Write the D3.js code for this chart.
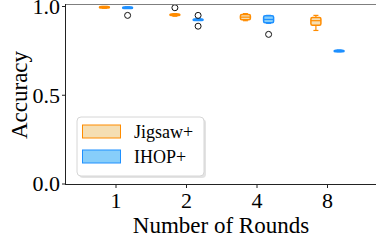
<!DOCTYPE html>
<html><head><meta charset="utf-8">
<script src="https://cdn.jsdelivr.net/npm/d3@7"></script>
<style>body{margin:0;background:#fff}svg{display:block}</style>
</head><body>
<script>
const categories = ["1","2","4","8"];
const seriesNames = ["Jigsaw+","IHOP+"];
// box stats per category: [whiskerLow, q1, median, q3, whiskerHigh]
const jigsawStats = [
  [0.990,0.993,0.997,1.000,1.000],
  [0.945,0.950,0.955,0.958,0.960],
  [0.920,0.925,0.940,0.955,0.960],
  [0.865,0.895,0.920,0.938,0.950]
];
const ihopStats = [
  [0.992,0.993,0.995,0.997,0.998],
  [0.922,0.924,0.927,0.930,0.932],
  [0.905,0.908,0.927,0.948,0.950],
  [0.745,0.747,0.750,0.753,0.755]
];
const jigsawFliers = [[],[0.993],[],[]];
const ihopFliers = [[0.950],[0.950,0.889],[0.843],[]];
const yTicks = [0.0,0.5,1.0];

const W=376,H=241;
const svg=d3.select("body").append("svg").attr("width",W).attr("height",H);
const font="'Liberation Serif', 'Times New Roman', serif";
const x=d3.scaleBand().domain(categories).range([80.75,362.75]).paddingInner(0).paddingOuter(0);
const y=d3.scaleLinear().domain([0,1]).range([184,6.5]);
const off=d3.scaleBand().domain(seriesNames).range([-29,29]).padding(0.5);
const styles={
  "Jigsaw+":{edge:"#ff8c00",fill:"#f5deb3",stats:jigsawStats,fliers:jigsawFliers},
  "IHOP+":{edge:"#1e90ff",fill:"#87cefa",stats:ihopStats,fliers:ihopFliers}
};
const bw=10;

// spines
svg.append("line").attr("x1",65.5).attr("x2",W).attr("y1",4.5).attr("y2",4.5).attr("stroke","#7f7f7f").attr("stroke-width",1.2);
svg.append("line").attr("x1",65.5).attr("x2",65.5).attr("y1",4).attr("y2",184.5).attr("stroke","#222").attr("stroke-width",1);
svg.append("line").attr("x1",65).attr("x2",W).attr("y1",184.5).attr("y2",184.5).attr("stroke","#222").attr("stroke-width",1);

// y ticks
yTicks.forEach(t=>{
  const yy=y(t);
  svg.append("line").attr("x1",62).attr("x2",65.5).attr("y1",yy).attr("y2",yy).attr("stroke","#222");
  svg.append("text").attr("x",60).attr("y",yy).attr("dy","0.34em").attr("text-anchor","end")
    .attr("font-family",font).attr("font-size",22).text(t.toFixed(1));
});
// x ticks
categories.forEach(c=>{
  const xx=x(c)+x.bandwidth()/2;
  svg.append("line").attr("x1",xx).attr("x2",xx).attr("y1",184.5).attr("y2",188).attr("stroke","#222");
  svg.append("text").attr("x",xx).attr("y",208).attr("text-anchor","middle")
    .attr("font-family",font).attr("font-size",22).text(c);
});
svg.append("text").attr("x",221).attr("y",233).attr("text-anchor","middle")
  .attr("font-family",font).attr("font-size",23).text("Number of Rounds");
svg.append("text").attr("transform","translate(27,95) rotate(-90)").attr("text-anchor","middle")
  .attr("font-family",font).attr("font-size",23).text("Accuracy");

// boxes
const clip=svg.append("clipPath").attr("id","c").append("rect").attr("x",66).attr("y",5).attr("width",W).attr("height",180);
const g=svg.append("g").attr("clip-path","url(#c)");
seriesNames.forEach(s=>{
  const st=styles[s];
  categories.forEach((c,i)=>{
    const cx=x(c)+x.bandwidth()/2+off(s)+off.bandwidth()/2;
    const [wl,q1,md,q3,wh]=st.stats[i];
    const gg=g.append("g");
    gg.append("line").attr("x1",cx).attr("x2",cx).attr("y1",y(wh)).attr("y2",y(q3)).attr("stroke",st.edge).attr("stroke-width",1.2);
    gg.append("line").attr("x1",cx).attr("x2",cx).attr("y1",y(q1)).attr("y2",y(wl)).attr("stroke",st.edge).attr("stroke-width",1.2);
    [wl,wh].forEach(v=>gg.append("line").attr("x1",cx-bw/4).attr("x2",cx+bw/4).attr("y1",y(v)).attr("y2",y(v)).attr("stroke",st.edge).attr("stroke-width",1.2));
    gg.append("rect").attr("x",cx-bw/2).attr("y",y(q3)).attr("width",bw).attr("height",Math.max(y(q1)-y(q3),1.5))
      .attr("rx",1.5).attr("fill",st.fill).attr("stroke",st.edge).attr("stroke-width",1.5);
    gg.append("line").attr("x1",cx-bw/2).attr("x2",cx+bw/2).attr("y1",y(md)).attr("y2",y(md)).attr("stroke",st.edge).attr("stroke-width",1.2);
    st.fliers[i].forEach(v=>g.append("circle").attr("cx",cx).attr("cy",y(v)).attr("r",3).attr("fill","none").attr("stroke","#111").attr("stroke-width",1));
  });
});

// legend
const lg=svg.append("g");
lg.append("rect").attr("x",79).attr("y",119).attr("width",127).attr("height",59).attr("rx",4).attr("fill","#d0d0d0").attr("opacity",0.6);
lg.append("rect").attr("x",77).attr("y",117).attr("width",127).attr("height",59).attr("rx",4).attr("fill","#fff").attr("stroke","#d6d6d6").attr("stroke-width",1);
seriesNames.forEach((s,i)=>{
  const yy=125+i*25;
  lg.append("rect").attr("x",82.5).attr("y",yy).attr("width",38).attr("height",13).attr("fill",styles[s].fill).attr("stroke",styles[s].edge).attr("stroke-width",1);
  lg.append("text").attr("x",134).attr("y",yy+6.5).attr("dy","0.34em").attr("font-family",font).attr("font-size",18).text(s);
});
</script>
</body></html>
